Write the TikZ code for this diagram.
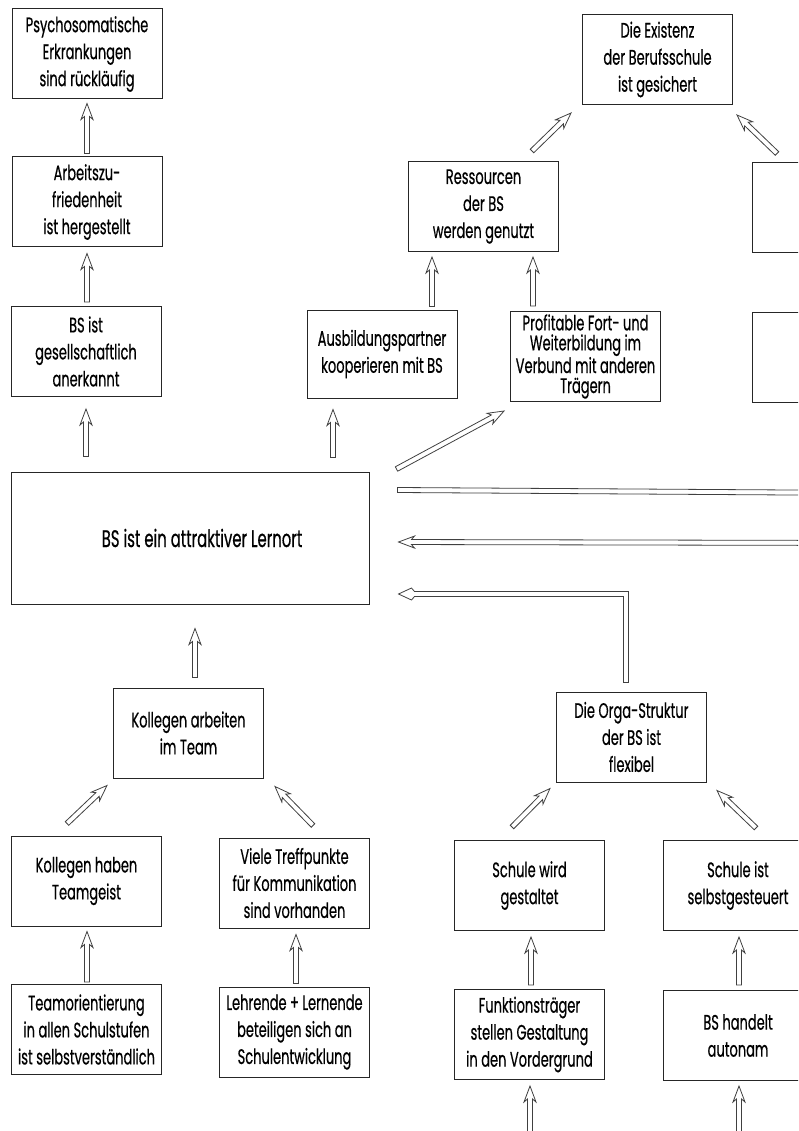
\documentclass[tikz,border=0pt]{standalone}
\usepackage{fontspec}
\setmainfont[FakeStretch=0.62, FakeBold=0.5]{Poppins}
\usetikzlibrary{calc}

% hollow block arrow from #1 (tail) to #2 (tip)
\newdimen\halen
\newcommand\harrow[2]{%
  \path let \p1=(#1), \p2=(#2),
      \n1={atan2(\y2-\y1,\x2-\x1)}, \n2={veclen(\x2-\x1,\y2-\y1)} in
      \pgfextra{\pgfmathsetmacro\hatmp{\n1}\xdef\haang{\hatmp}%
        \pgfmathsetlength\halen{\n2}\global\halen=\halen};
  \begin{scope}[shift={(#1)}, rotate=\haang]
    \draw[hollow] (0pt,-2.5pt) -- ({\halen-13pt},-2.5pt) -- ({\halen-16pt},-6pt)
      -- (\halen,0pt) -- ({\halen-16pt},6pt) -- ({\halen-13pt},2.5pt)
      -- (0pt,2.5pt) -- cycle;
  \end{scope}}

\tikzset{
  hollow/.style={draw=black!75, line width=0.8pt, fill=white, line join=miter},
  txt/.style={font=\fontsize{21}{27}\selectfont},
  goal/.style={draw=black!85, line width=1pt, minimum width=150pt,
    minimum height=90pt, inner sep=2pt, align=center, txt},
}

\begin{document}
\begin{tikzpicture}[x=1pt, y=-1pt]
\useasboundingbox (0,0) rectangle (798,1131);
\clip (0,0) rectangle (798,1131);

% upper left column
\node[goal] (psy) at (87,54) {Psychosomatische\\Erkrankungen\\sind rückläufig};
\node[goal] (arb) at (87,202) {Arbeitszu-\\friedenheit\\ist hergestellt};
\node[goal] (ges) at (86,351.5) {BS ist\\gesellschaftlich\\anerkannt};

% upper right branch
\node[goal] (exist) at (657.5,59.5) {Die Existenz\\der Berufsschule\\ist gesichert};
\node[goal] (ress) at (483.5,206.5) {Ressourcen\\der BS\\werden genutzt};
\node[goal, minimum height=88pt] (ausb) at (382,354) {Ausbildungspartner\\kooperieren mit BS};
\node[goal, font=\fontsize{21}{20}\selectfont] (prof) at (585.5,356.5)
  {Profitable Fort- und\\Weiterbildung im\\Verbund mit anderen\\Trägern};
\node[goal] (rtop) at (827,208) {};
\node[goal] (rmid) at (827,357.5) {};

% central goal
\node[goal, minimum width=358pt, minimum height=132pt,
  label={[xshift=12pt, font=\fontsize{24}{30}\selectfont]center:BS ist ein attraktiver Lernort}]
  (lern) at (190,538) {};

% lower left branch
\node[goal] (koll) at (188.5,733) {Kollegen arbeiten\\im Team};
\node[goal] (kteam) at (86.5,881) {Kollegen haben\\Teamgeist};
\node[goal] (viele) at (294.5,883) {Viele Treffpunkte\\für Kommunikation\\sind vorhanden};
\node[goal] (teamor) at (86.5,1029.5) {Teamorientierung\\in allen Schulstufen\\ist selbstverständlich};
\node[goal] (lehr) at (294.5,1032) {Lehrende + Lernende\\beteiligen sich an\\Schulentwicklung};

% lower right branch
\node[goal] (orga) at (631.5,737) {Die Orga-Struktur\\der BS ist\\flexibel};
\node[goal] (swg) at (529.5,885.5) {Schule wird\\gestaltet};
\node[goal] (sis) at (738,885.5) {Schule ist\\selbstgesteuert};
\node[goal] (funk) at (529.5,1034.5) {Funktionsträger\\stellen Gestaltung\\in den Vordergrund};
\node[goal] (bsh) at (738,1035.5) {BS handelt\\autonam};

% free ends beyond the page edge
\coordinate (eastA) at (870,493);
\coordinate (eastB) at (870,543);
\coordinate (botA) at (530,1150);
\coordinate (botB) at (739,1150);
\coordinate (ltip) at ($(lern.east)+(29,56)$);

% connectors, upper part
\harrow{$(arb.north)+(0,-3)$}{$(psy.south)+(0,4)$}
\harrow{$(ges.north)+(1,-4)$}{$(arb.south)+(0,6)$}
\harrow{$(lern.north)+(-104,-15)$}{$(ges.south)+(0,12)$}
\harrow{$(lern.north)+(143,-14)$}{$(ausb.south)+(-49,11)$}
\harrow{$(ausb.north)+(50,-3)$}{$(ress.south)+(-51.5,5)$}
\harrow{$(prof.north)+(-52.5,-5)$}{$(ress.south)+(49.5,5)$}
\harrow{$(ress.north)+(48.5,-10)$}{$(exist.south)+(-86.5,8)$}
\harrow{$(rtop.north)+(-50,-9)$}{$(exist.south)+(79.5,10)$}
\harrow{$(lern.east)+(27,-69)$}{$(prof.south)+(-81.5,9)$}
\harrow{$(lern.east)+(28,-48)$}{eastA}
\harrow{eastB}{$(lern.east)+(29,4)$}

% elbow connector from the Orga box into the central goal
\draw[hollow] let \p1=($(orga.north)+(-5.5,-9)$), \p2=(ltip) in
  (\x1-2.5pt,\y1) -- (\x1-2.5pt,\y2-2.5pt) -- (\x2+16pt,\y2-2.5pt)
  -- (\x2+13pt,\y2-6pt) -- (\x2,\y2) -- (\x2+13pt,\y2+6pt)
  -- (\x2+16pt,\y2+2.5pt) -- (\x1+2.5pt,\y2+2.5pt) -- (\x1+2.5pt,\y1) -- cycle;

% connectors, lower part
\harrow{$(koll.north)+(6.5,-10)$}{$(lern.south)+(5,24)$}
\harrow{$(kteam.north)+(-19.5,-12)$}{$(koll.south)+(-81.5,7)$}
\harrow{$(viele.north)+(18.5,-12)$}{$(koll.south)+(86.5,8)$}
\harrow{$(teamor.north)+(0.5,-2)$}{$(kteam.south)+(0.5,5)$}
\harrow{$(lehr.north)+(1.5,-3)$}{$(viele.south)+(1.5,6)$}
\harrow{$(swg.north)+(-17.5,-13)$}{$(orga.south)+(-81.5,6)$}
\harrow{$(sis.north)+(18,-12)$}{$(orga.south)+(85.5,8)$}
\harrow{$(funk.north)+(1.5,-4)$}{$(swg.south)+(1.5,6)$}
\harrow{$(bsh.north)+(1,-5)$}{$(sis.south)+(1,6)$}
\harrow{botA}{$(funk.south)+(0.5,6)$}
\harrow{botB}{$(bsh.south)+(1,5)$}
\end{tikzpicture}
\end{document}
